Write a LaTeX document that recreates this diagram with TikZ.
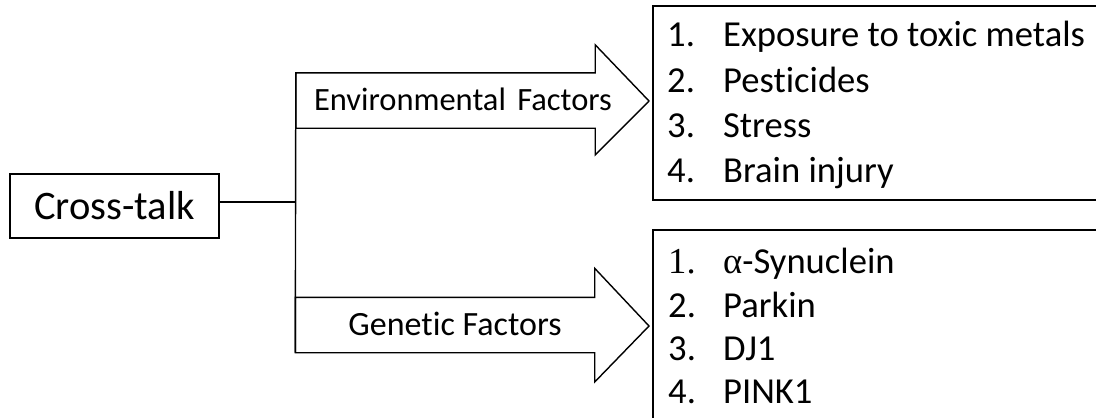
\documentclass[tikz,border=0pt]{standalone}
\usepackage{fontspec}
\setmainfont[Ligatures=NoCommon]{Carlito}
\newfontfamily\serifalt{Liberation Serif}
\begin{document}
\begin{tikzpicture}[x=1pt,y=-1pt,
  mainbox/.style={draw, line width=2.6pt, minimum width=209pt, minimum height=64pt, inner sep=0pt, font=\fontsize{40.5}{42}\selectfont},
  body/.style={inner sep=0pt, minimum width=299pt, minimum height=55pt},
  blockarrow/.style={draw, line width=1.4pt, line join=miter},
  arrowtext/.style={font=\fontsize{32.5}{34}\selectfont, inner sep=0pt},
  listbox/.style={draw, line width=2pt, anchor=north west, inner sep=0pt},
  item/.style={anchor=base west, inner sep=0pt, font=\fontsize{36.6}{38}\selectfont},
  link/.style={line width=1.4pt}
]
\useasboundingbox (0,0) rectangle (1096,418);
\clip (0,0) rectangle (1096,418);
\fill[white] (0,0) rectangle (1096,418);

% Cross-talk box
\node[mainbox] (cross) at (114.5,206) {Cross-talk};

% arrow bodies (named), outlines drawn from their anchors
\node[body] (envbody) at (445.5,100.5) {};
\node[body] (genbody) at (445,325) {};

\draw[blockarrow] (envbody.south west) -- (envbody.north west) -- (envbody.north east)
  -- ++(0,-28) -- (649,101) -- (envbody.south east |- 0,155) -- (envbody.south east) -- cycle;
\draw[blockarrow] (genbody.south west) -- (genbody.north west) -- (genbody.north east)
  -- ++(0,-29) -- (649,326) -- (genbody.south east |- 0,382) -- (genbody.south east) -- cycle;

\node[arrowtext, anchor=base] (envtext) at (463,110) {Environmental\hspace{0.35em}Factors};
\node[arrowtext, anchor=base] (gentext) at (455,335) {\fontsize{34}{36}\selectfont Genetic Factors};

% connectors
\draw[link] (envbody.north west) -- (genbody.south west);
\coordinate (junction) at ([yshift=4pt]cross.east -| envbody.west);
\draw[link] ([yshift=4pt]cross.east) -- (junction);

% list boxes
\node[listbox, minimum width=470pt, minimum height=194pt] (envbox) at (652,5) {};
\node[listbox, minimum width=470pt, minimum height=220pt] (genbox) at (652,229) {};

% environmental list
\node[item] (e1) at (667,46) {\makebox[56pt][l]{1.}Exposure to toxic metals};
\node[item] (e2) at (667,92) {\makebox[56pt][l]{2.}Pesticides};
\node[item] (e3) at (667,137) {\makebox[56pt][l]{3.}Stress};
\node[item] (e4) at (667,182) {\makebox[56pt][l]{4.}Brain injury};

% genetic list
\node[item] (g1) at (668,273) {\makebox[55pt][l]{\serifalt 1.}{\serifalt α}-Synuclein};
\node[item] (g2) at (668,317) {\makebox[55pt][l]{2.}Parkin};
\node[item] (g3) at (668,360) {\makebox[55pt][l]{3.}DJ1};
\node[item] (g4) at (668,403) {\makebox[55pt][l]{4.}PINK1};
\end{tikzpicture}
\end{document}
